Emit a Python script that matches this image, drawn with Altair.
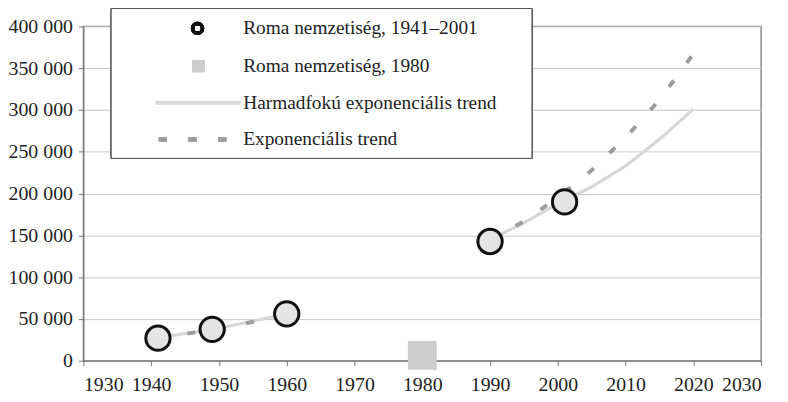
import altair as alt
import pandas as pd

# ---- data ----
census_years = [1941, 1949, 1960, 1990, 2001]
census_roma = [27033, 37598, 56121, 142683, 190046]

year_1980 = [1980]
roma_1980 = [6404]

exp_years = [1941, 1945, 1950, 1955, 1960, 1990, 1995, 2000, 2005, 2010, 2015, 2020]
exp_vals = [27500, 32000, 38500, 46500, 56000, 143000, 167000, 195000, 228000, 267000, 312000, 367000]
exp_seg = ["a", "a", "a", "a", "a", "b", "b", "b", "b", "b", "b", "b"]

cub_years = [1941, 1950, 1960, 1990, 1995, 2000, 2005, 2010, 2015, 2020]
cub_vals = [27500, 39000, 56000, 145000, 165000, 188000, 208000, 233000, 265000, 301000]
cub_seg = ["a", "a", "a", "b", "b", "b", "b", "b", "b", "b"]

legend_labels = [
    "Roma nemzetiség, 1941–2001",
    "Roma nemzetiség, 1980",
    "Harmadfokú exponenciális trend",
    "Exponenciális trend",
]
x_ticks = list(range(1930, 2031, 10))
y_ticks = list(range(0, 400001, 50000))

FONT = "Liberation Serif"
W, H = 683, 337

census = pd.DataFrame({"year": census_years, "roma": census_roma})
d1980 = pd.DataFrame({"year": year_1980, "roma": roma_1980})
dexp = pd.DataFrame({"year": exp_years, "roma": exp_vals, "seg": exp_seg})
dcub = pd.DataFrame({"year": cub_years, "roma": cub_vals, "seg": cub_seg})

xs = alt.Scale(domain=[1930, 2030], nice=False, zero=False)
ys = alt.Scale(domain=[0, 400000], nice=False)

x_axis = alt.Axis(values=x_ticks, format="d", grid=False, title=None,
                  labelFont=FONT, labelFontSize=20, labelColor="#222",
                  domainColor="#777", tickColor="#777", tickSize=5,
                  labelPadding=9)
y_axis = alt.Axis(values=y_ticks, title=None, grid=True, gridColor="#c8c8c8",
                  labelExpr="datum.value == 0 ? '0' : format(floor(datum.value/1000), 'd') + ' 000'",
                  labelFont=FONT, labelFontSize=20, labelColor="#222",
                  domainColor="#777", tickColor="#777", tickSize=5,
                  labelPadding=6)

X = alt.X("year:Q", scale=xs, axis=x_axis)
Y = alt.Y("roma:Q", scale=ys, axis=y_axis)

cub = alt.Chart(dcub).mark_line(color="#d6d6d6", strokeWidth=3).encode(
    x=X, y=Y, detail="seg:N")
exp = alt.Chart(dexp).mark_line(color="#9c9c9c", strokeWidth=4, strokeDash=[8, 22]).encode(
    x=X, y=Y, detail="seg:N")
pts = alt.Chart(census).mark_point(shape="circle", size=600, filled=False,
                                    fill="#e4e4e4", fillOpacity=1, stroke="#111",
                                    strokeWidth=3, opacity=1).encode(x=X, y=Y)
sq = alt.Chart(d1980).mark_point(shape="square", size=840, filled=True,
                                 color="#cdcdcd", opacity=1).encode(x=X, y=Y)

# ---- legend box (drawn in pixel space) ----
box = alt.Chart(census).mark_rect(fill="white", stroke="#555", strokeWidth=1).encode(
    x=alt.value(28), x2=alt.value(452), y=alt.value(-18), y2=alt.value(133))
leg_circ = alt.Chart(census).mark_point(shape="circle", size=100, filled=False,
                                         stroke="#111", strokeWidth=3.5, opacity=1).encode(
    x=alt.value(115), y=alt.value(2))
leg_sq = alt.Chart(census).mark_point(shape="square", size=150, filled=True,
                                       color="#cdcdcd", opacity=1).encode(
    x=alt.value(116), y=alt.value(40))
leg_cub = alt.Chart(census).mark_rule(color="#d6d6d6", strokeWidth=3).encode(
    x=alt.value(73), x2=alt.value(158), y=alt.value(77))
leg_exp = alt.Chart(census).mark_rule(color="#9c9c9c", strokeWidth=4, strokeDash=[8, 22]).encode(
    x=alt.value(76), x2=alt.value(160), y=alt.value(114))

texts = []
for i, lab in enumerate(legend_labels):
    texts.append(
        alt.Chart(pd.DataFrame({"t": [lab]})).mark_text(
            align="left", baseline="middle", font=FONT, fontSize=19.5, color="#222"
        ).encode(x=alt.value(161), y=alt.value([2, 40, 77, 114][i]), text="t:N")
    )

chart = alt.layer(cub, exp, pts, sq, box, leg_circ, leg_sq, leg_cub, leg_exp, *texts).properties(
    width=W, height=H,
    autosize=alt.AutoSizeParams(type="none"),
    padding={"left": 76, "top": 17, "right": 19, "bottom": 38},
    background="white",
).configure_view(stroke="#888", strokeWidth=1.5)

chart.save("out.html", embed_options={"renderer": "svg", "actions": False})
